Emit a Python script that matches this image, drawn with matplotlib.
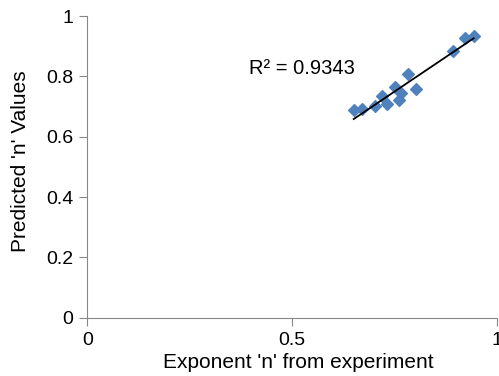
import numpy as np
import matplotlib.pyplot as plt

plt.rcParams['font.family'] = ['Liberation Sans', 'DejaVu Sans']

# exponent n from experiment vs predicted n
n_exp = [0.651, 0.672, 0.703, 0.721, 0.733, 0.752, 0.762, 0.766, 0.784, 0.804, 0.893, 0.923, 0.944]
n_pred = [0.688, 0.693, 0.701, 0.734, 0.708, 0.765, 0.721, 0.745, 0.807, 0.760, 0.884, 0.928, 0.934]
r2_label = "R² = 0.9343"

fig = plt.figure(figsize=(4.99, 3.76), dpi=100)
ax = fig.add_axes([0.175, 0.155, 0.82, 0.802])

ax.scatter(n_exp, n_pred, marker='D', s=36, color='#4F81BD', zorder=3)

# linear trendline
k, b = np.polyfit(n_exp, n_pred, 1)
xs = np.array([min(n_exp), max(n_exp)])
ax.plot(xs, k * xs + b, color='black', lw=1.3, zorder=4)

ax.text(0.395, 0.827, r2_label, fontsize=14.5, va='center', ha='left')

ax.set_xlim(0, 1)
ax.set_ylim(0, 1)
ax.set_xticks([0, 0.5, 1])
ax.set_xticklabels(['0', '0.5', '1'])
ax.set_yticks([0, 0.2, 0.4, 0.6, 0.8, 1])
ax.set_yticklabels(['0', '0.2', '0.4', '0.6', '0.8', '1'])
ax.set_xlabel("Exponent 'n' from experiment", fontsize=15)
ax.set_ylabel("Predicted 'n' Values", fontsize=15)
ax.xaxis.set_label_coords(0.515, -0.116)
ax.yaxis.set_label_coords(-0.139, 0.52)

for s in ['top', 'right']:
    ax.spines[s].set_visible(False)
for s in ['left', 'bottom']:
    ax.spines[s].set_color('#888888')
ax.tick_params(colors='#888888', labelcolor='black', labelsize=14, length=6,
               direction='out', pad=4)

plt.savefig('out.png', dpi=100)
